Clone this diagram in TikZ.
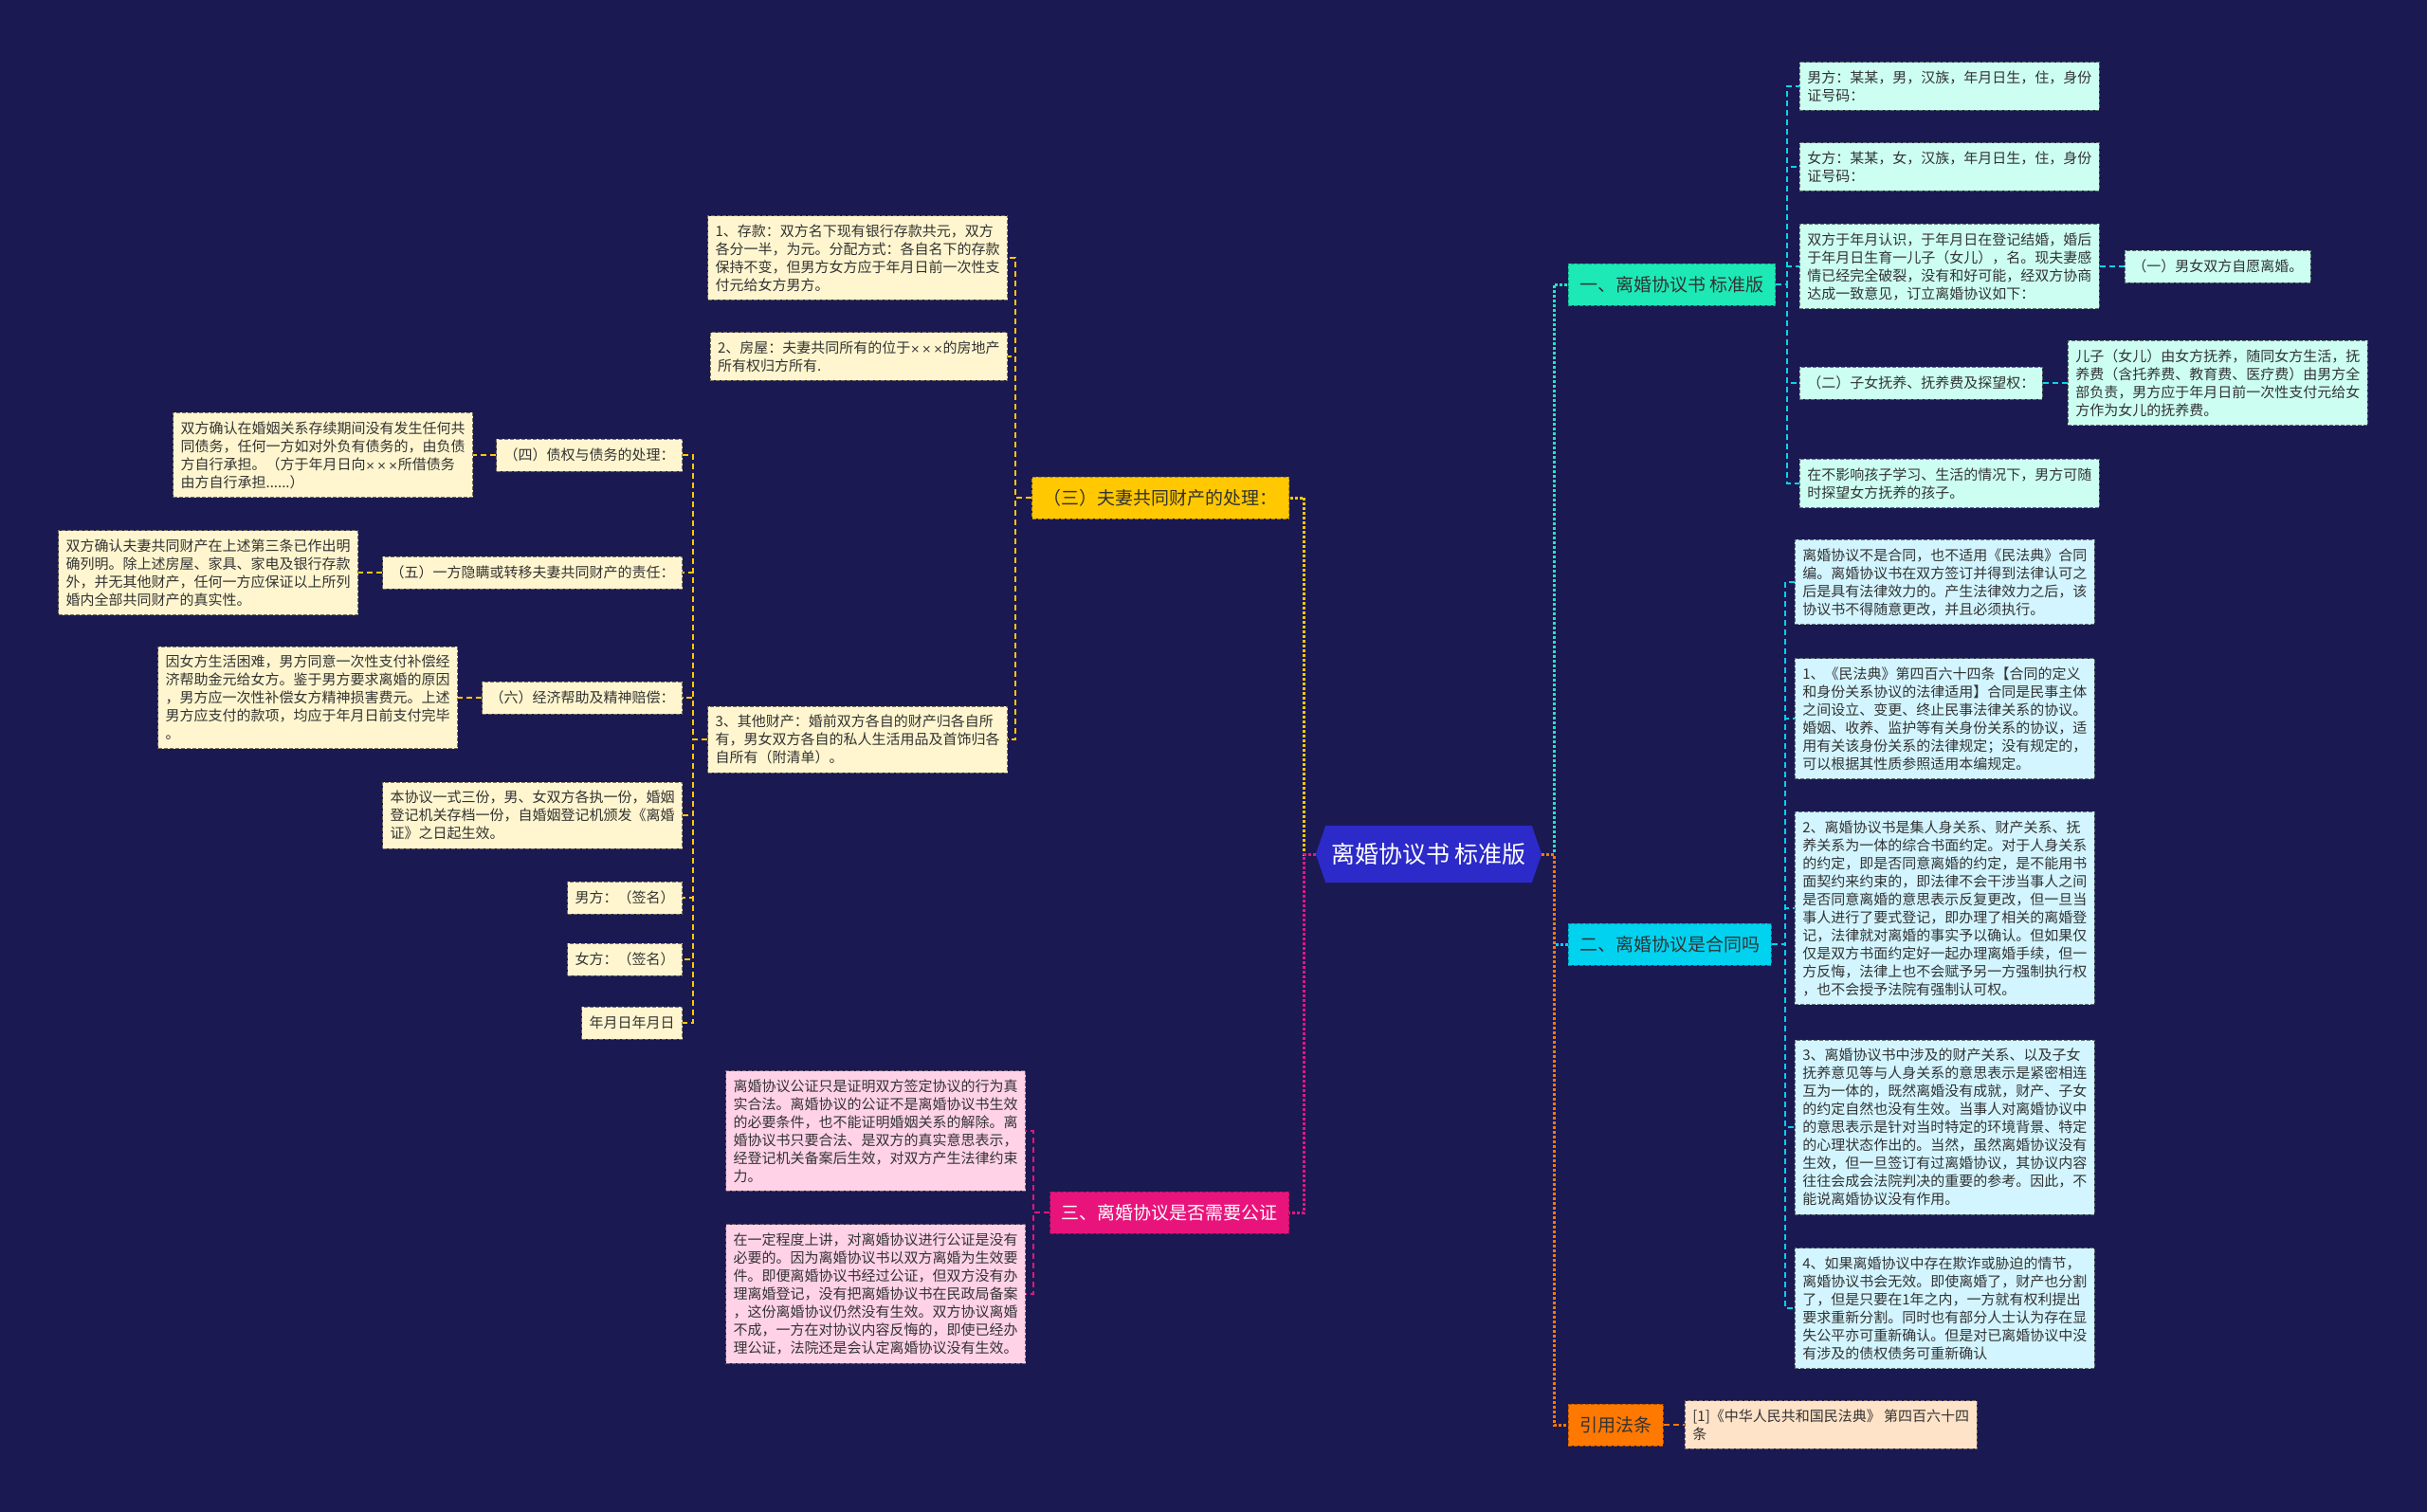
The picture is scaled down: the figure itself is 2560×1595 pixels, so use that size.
\documentclass[tikz,border=0pt]{standalone}
\usepackage{fontspec}
\newfontfamily\cjk{Noto Sans CJK SC}
\newfontfamily\latinfont{DejaVu Sans}
\usetikzlibrary{shapes.symbols}
\definecolor{bgnavy}{RGB}{27,25,82}
\definecolor{rootblue}{RGB}{44,42,200}
\definecolor{tealbr}{RGB}{29,233,182}
\definecolor{cyanbr}{RGB}{0,210,240}
\definecolor{amberbr}{RGB}{255,200,0}
\definecolor{pinkbr}{RGB}{232,20,124}
\definecolor{orangebr}{RGB}{255,120,0}
\definecolor{mintfill}{RGB}{204,255,242}
\definecolor{icefill}{RGB}{210,245,255}
\definecolor{creamfill}{RGB}{255,246,207}
\definecolor{rosefill}{RGB}{255,210,232}
\definecolor{peachfill}{RGB}{255,227,200}
\newcommand\leaffont{\cjk\fontsize{15pt}{19pt}\selectfont}
\newcommand\branchfont{\cjk\fontsize{19pt}{23pt}\selectfont}
\newcommand\rootfont{\cjk\fontsize{25pt}{30pt}\selectfont}
\newcommand\xxx{{\latinfont\fontsize{12pt}{19pt}\selectfont ×\,×\,×}}

\begin{document}
\begin{tikzpicture}[x=1pt,y=-1pt,line cap=butt,
  leafbox/.style={font=\leaffont, align=left, text=black!80, fill=#1, draw=#1!45!black,
    inner xsep=8pt, inner ysep=9pt, line width=0.8pt, dash pattern=on 4pt off 2pt},
  oneline/.style={minimum height=34pt},
  branchbox/.style={font=\branchfont, fill=#1, draw=#1!70!black, inner xsep=12pt,
    minimum height=44pt, line width=0.8pt, dash pattern=on 4pt off 2pt},
  conn/.style={draw=#1, line width=1.6pt, dash pattern=on 6pt off 4pt},
  rootconn/.style={draw=#1, line width=3pt, dash pattern=on 3pt off 2pt}]
  \fill[bgnavy] (0,0) rectangle (2560,1595);
  \useasboundingbox (0,0) rectangle (2560,1595);

  \node[signal, signal to=east and west, signal pointer angle=142, fill=rootblue,
    font=\rootfont, text=white, minimum height=60pt, inner xsep=6pt] (root) at (1507,901) {离婚协议书 标准版};

  \node[branchbox=tealbr, text=black!80, anchor=west] (b1) at (1654,300) {一、离婚协议书 标准版};
  \node[branchbox=cyanbr, text=black!80, anchor=west] (b2) at (1654,996) {二、离婚协议是合同吗};
  \node[branchbox=orangebr, text=black!80, anchor=west] (b5) at (1654,1503) {引用法条};
  \node[branchbox=amberbr, text=black!80, anchor=east] (b3) at (1360,525) {（三）夫妻共同财产的处理：};
  \node[branchbox=pinkbr, text=white, anchor=east] (b4) at (1360,1279) {三、离婚协议是否需要公证};

  \node[leafbox=mintfill, anchor=west] (l11) at (1898,91) {男方：某某，男，汉族，年月日生，住，身份\\证号码：};
  \node[leafbox=mintfill, anchor=west] (l12) at (1898,176) {女方：某某，女，汉族，年月日生，住，身份\\证号码：};
  \node[leafbox=mintfill, anchor=west] (l13) at (1898,281) {双方于年月认识，于年月日在登记结婚，婚后\\于年月日生育一儿子（女儿），名。现夫妻感\\情已经完全破裂，没有和好可能，经双方协商\\达成一致意见，订立离婚协议如下：};
  \node[leafbox=mintfill, oneline, anchor=west] (l131) at (2241,281) {（一）男女双方自愿离婚。};
  \node[leafbox=mintfill, oneline, anchor=west] (l14) at (1898,404) {（二）子女抚养、抚养费及探望权：};
  \node[leafbox=mintfill, anchor=west] (l141) at (2181,404) {儿子（女儿）由女方抚养，随同女方生活，抚\\养费（含托养费、教育费、医疗费）由男方全\\部负责，男方应于年月日前一次性支付元给女\\方作为女儿的抚养费。};
  \node[leafbox=mintfill, anchor=west] (l15) at (1898,510) {在不影响孩子学习、生活的情况下，男方可随\\时探望女方抚养的孩子。};

  \node[leafbox=icefill, anchor=west] (l21) at (1893,614) {离婚协议不是合同，也不适用《民法典》合同\\编。离婚协议书在双方签订并得到法律认可之\\后是具有法律效力的。产生法律效力之后，该\\协议书不得随意更改，并且必须执行。};
  \node[leafbox=icefill, anchor=west] (l22) at (1893,758) {1、《民法典》第四百六十四条【合同的定义\\和身份关系协议的法律适用】合同是民事主体\\之间设立、变更、终止民事法律关系的协议。\\婚姻、收养、监护等有关身份关系的协议，适\\用有关该身份关系的法律规定；没有规定的，\\可以根据其性质参照适用本编规定。};
  \node[leafbox=icefill, anchor=west] (l23) at (1893,958) {2、离婚协议书是集人身关系、财产关系、抚\\养关系为一体的综合书面约定。对于人身关系\\的约定，即是否同意离婚的约定，是不能用书\\面契约来约束的，即法律不会干涉当事人之间\\是否同意离婚的意思表示反复更改，但一旦当\\事人进行了要式登记，即办理了相关的离婚登\\记，法律就对离婚的事实予以确认。但如果仅\\仅是双方书面约定好一起办理离婚手续，但一\\方反悔，法律上也不会赋予另一方强制执行权\\，也不会授予法院有强制认可权。};
  \node[leafbox=icefill, anchor=west] (l24) at (1893,1189) {3、离婚协议书中涉及的财产关系、以及子女\\抚养意见等与人身关系的意思表示是紧密相连\\互为一体的，既然离婚没有成就，财产、子女\\的约定自然也没有生效。当事人对离婚协议中\\的意思表示是针对当时特定的环境背景、特定\\的心理状态作出的。当然，虽然离婚协议没有\\生效，但一旦签订有过离婚协议，其协议内容\\往往会成会法院判决的重要的参考。因此，不\\能说离婚协议没有作用。};
  \node[leafbox=icefill, anchor=west] (l25) at (1893,1380) {4、如果离婚协议中存在欺诈或胁迫的情节，\\离婚协议书会无效。即使离婚了，财产也分割\\了，但是只要在1年之内，一方就有权利提出\\要求重新分割。同时也有部分人士认为存在显\\失公平亦可重新确认。但是对已离婚协议中没\\有涉及的债权债务可重新确认};

  \node[leafbox=peachfill, anchor=west] (l51) at (1777,1503) {[1]《中华人民共和国民法典》 第四百六十四\\条};

  \node[leafbox=creamfill, anchor=east] (l31) at (1063,272) {1、存款：双方名下现有银行存款共元，双方\\各分一半，为元。分配方式：各自名下的存款\\保持不变，但男方女方应于年月日前一次性支\\付元给女方男方。};
  \node[leafbox=creamfill, anchor=east] (l32) at (1063,376) {2、房屋：夫妻共同所有的位于\xxx 的房地产\\所有权归方所有.};
  \node[leafbox=creamfill, anchor=east] (l33) at (1063,780) {3、其他财产：婚前双方各自的财产归各自所\\有，男女双方各自的私人生活用品及首饰归各\\自所有（附清单）。};

  \node[leafbox=creamfill, oneline, anchor=east] (l331) at (720,480) {（四）债权与债务的处理：};
  \node[leafbox=creamfill, oneline, anchor=east] (l332) at (720,604) {（五）一方隐瞒或转移夫妻共同财产的责任：};
  \node[leafbox=creamfill, oneline, anchor=east] (l333) at (720,736) {（六）经济帮助及精神赔偿：};
  \node[leafbox=creamfill, anchor=east] (l334) at (720,860) {本协议一式三份，男、女双方各执一份，婚姻\\登记机关存档一份，自婚姻登记机颁发《离婚\\证》之日起生效。};
  \node[leafbox=creamfill, oneline, anchor=east] (l335) at (720,947) {男方：（签名）};
  \node[leafbox=creamfill, oneline, anchor=east] (l336) at (720,1012) {女方：（签名）};
  \node[leafbox=creamfill, oneline, anchor=east] (l337) at (720,1079) {年月日年月日};

  \node[leafbox=creamfill, anchor=east] (l3311) at (499,480) {双方确认在婚姻关系存续期间没有发生任何共\\同债务，任何一方如对外负有债务的，由负债\\方自行承担。（方于年月日向\xxx 所借债务\\由方自行承担......）};
  \node[leafbox=creamfill, anchor=east] (l3321) at (378,604) {双方确认夫妻共同财产在上述第三条已作出明\\确列明。除上述房屋、家具、家电及银行存款\\外，并无其他财产，任何一方应保证以上所列\\婚内全部共同财产的真实性。};
  \node[leafbox=creamfill, anchor=east] (l3331) at (483,736) {因女方生活困难，男方同意一次性支付补偿经\\济帮助金元给女方。鉴于男方要求离婚的原因\\，男方应一次性补偿女方精神损害费元。上述\\男方应支付的款项，均应于年月日前支付完毕\\。};

  \node[leafbox=rosefill, anchor=east] (l41) at (1082,1193) {离婚协议公证只是证明双方签定协议的行为真\\实合法。离婚协议的公证不是离婚协议书生效\\的必要条件，也不能证明婚姻关系的解除。离\\婚协议书只要合法、是双方的真实意思表示，\\经登记机关备案后生效，对双方产生法律约束\\力。};
  \node[leafbox=rosefill, anchor=east] (l42) at (1082,1365) {在一定程度上讲，对离婚协议进行公证是没有\\必要的。因为离婚协议书以双方离婚为生效要\\件。即便离婚协议书经过公证，但双方没有办\\理离婚登记，没有把离婚协议书在民政局备案\\，这份离婚协议仍然没有生效。双方协议离婚\\不成，一方在对协议内容反悔的，即使已经办\\理公证，法院还是会认定离婚协议没有生效。};

  \draw[rootconn=tealbr] (root.east) -- ++(13,0) |- (b1.west);
  \draw[rootconn=cyanbr] (root.east) -- ++(13,0) |- (b2.west);
  \draw[rootconn=orangebr] (root.east) -- ++(13,0) |- (b5.west);
  \draw[rootconn=amberbr] (root.west) -- ++(-12,0) |- (b3.east);
  \draw[rootconn=pinkbr] (root.west) -- ++(-12,0) |- (b4.east);

  \foreach \n in {l11,l12,l13,l14,l15}
    \draw[conn=cyanbr!80!tealbr] (b1.east) -- ++(12,0) |- (\n.west);
  \draw[conn=cyanbr!80!tealbr] (l13.east) -- (l131.west);
  \draw[conn=cyanbr!80!tealbr] (l14.east) -- (l141.west);
  \foreach \n in {l21,l22,l23,l24,l25}
    \draw[conn=cyanbr] (b2.east) -- ++(14,0) |- (\n.west);
  \draw[conn=orangebr] (b5.east) -- (l51.west);

  \foreach \n in {l31,l32,l33}
    \draw[conn=amberbr] (b3.west) -- ++(-17,0) |- (\n.east);
  \foreach \n in {l331,l332,l333,l334,l335,l336,l337}
    \draw[conn=amberbr] (l33.west) -- ++(-15,0) |- (\n.east);
  \draw[conn=amberbr] (l331.west) -- (l3311.east);
  \draw[conn=amberbr] (l332.west) -- (l3321.east);
  \draw[conn=amberbr] (l333.west) -- (l3331.east);

  \foreach \n in {l41,l42}
    \draw[conn=pinkbr] (b4.west) -- ++(-17,0) |- (\n.east);
\end{tikzpicture}
\end{document}
